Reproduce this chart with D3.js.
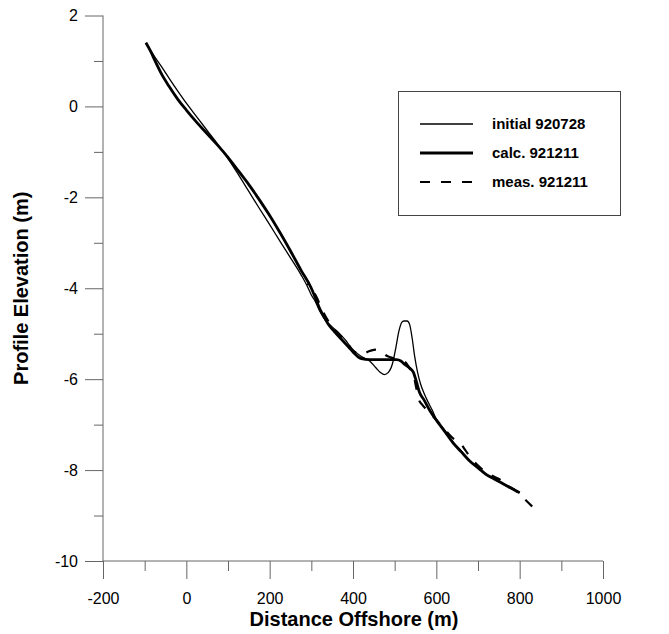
<!DOCTYPE html>
<html>
<head>
<meta charset="utf-8">
<script src="https://cdn.jsdelivr.net/npm/d3@7"></script>
<style>
  html, body { margin: 0; padding: 0; background: #fff; }
  text { font-family: Arial, "Liberation Sans", sans-serif; }
</style>
</head>
<body>
<script>
// profile data, distance offshore (m) vs elevation (m)
const initialX = [-97, -85, -75, -60, -40, -20, 0, 25, 50, 75, 95, 125, 150, 175, 200, 225, 250, 275, 290, 300, 310, 320, 335, 350, 365, 380, 400, 420, 440, 455, 465, 475, 485, 495, 503, 510, 517, 522, 530, 536, 542, 548, 555, 562, 570, 580, 590, 600, 620, 640, 660, 680, 700, 720, 740, 760, 780, 800];
const initialY = [1.4, 1.22, 1.08, 0.88, 0.6, 0.33, 0.07, -0.23, -0.53, -0.83, -1.08, -1.5, -1.87, -2.24, -2.6, -2.97, -3.33, -3.7, -3.95, -4.15, -4.3, -4.5, -4.72, -4.85, -4.97, -5.12, -5.35, -5.5, -5.6, -5.75, -5.85, -5.9, -5.85, -5.65, -5.3, -4.95, -4.75, -4.72, -4.72, -4.8, -5.1, -5.5, -5.85, -6.1, -6.3, -6.5, -6.68, -6.88, -7.12, -7.38, -7.58, -7.8, -7.93, -8.1, -8.18, -8.3, -8.38, -8.5];

const calcX = [-97, -85, -75, -60, -40, -20, 0, 25, 50, 75, 100, 125, 150, 175, 200, 225, 250, 275, 300, 310, 320, 330, 340, 350, 360, 375, 390, 400, 420, 440, 460, 480, 505, 515, 525, 535, 545, 552, 560, 570, 585, 600, 620, 640, 660, 680, 700, 720, 740, 760, 780, 800];
const calcY = [1.4, 1.2, 1.0, 0.72, 0.42, 0.15, -0.08, -0.35, -0.6, -0.85, -1.12, -1.42, -1.72, -2.05, -2.4, -2.78, -3.18, -3.6, -4.0, -4.22, -4.45, -4.62, -4.78, -4.9, -5.0, -5.15, -5.3, -5.4, -5.55, -5.57, -5.57, -5.57, -5.57, -5.6, -5.68, -5.75, -5.85, -6.05, -6.3, -6.45, -6.7, -6.9, -7.15, -7.4, -7.6, -7.8, -7.95, -8.1, -8.2, -8.3, -8.4, -8.5];

const measX = [290, 310, 330, 350, 370, 390, 400, 420, 440, 455, 470, 480, 490, 505, 525, 535, 545, 552, 558, 565, 580, 600, 620, 640, 655, 665, 680, 700, 720, 740, 755, 770, 790, 810, 830];
const measY = [-3.9, -4.15, -4.55, -4.85, -5.05, -5.25, -5.38, -5.45, -5.38, -5.35, -5.4, -5.48, -5.52, -5.56, -5.62, -5.75, -5.9, -6.2, -6.45, -6.55, -6.7, -6.9, -7.1, -7.3, -7.38, -7.5, -7.7, -7.9, -8.05, -8.15, -8.22, -8.35, -8.45, -8.62, -8.8];

const xTicks = [-200, 0, 200, 400, 600, 800, 1000];
const xMinor = [-100, 100, 300, 500, 700, 900];
const yTicks = [-10, -8, -6, -4, -2, 0, 2];
const yMinor = [-9, -7, -5, -3, -1, 1];

const seriesNames = ['initial 920728', 'calc. 921211', 'meas. 921211'];

window.onload = () => {
  const width = 669,
    height = 634;

  const svg = d3
    .select('body')
    .append('svg')
    .attr('width', width)
    .attr('height', height);

  const x = d3.scaleLinear().domain([-200, 1000]).range([103, 603]);
  const y = d3.scaleLinear().domain([-10, 2]).range([561, 15.5]);

  const axisColor = '#666';
  const fmt = d => String(d); // plain hyphen for negatives

  // x axis
  svg.append('g')
    .attr('transform', `translate(0,${y(-10)})`)
    .call(d3.axisBottom(x).tickValues(xTicks).tickSize(18).tickPadding(14).tickFormat(fmt))
    .call(g => g.select('.domain').remove());
  svg.append('g')
    .attr('transform', `translate(0,${y(-10)})`)
    .call(d3.axisBottom(x).tickValues(xMinor).tickSize(10).tickFormat(''))
    .call(g => g.select('.domain').remove());

  // y axis
  svg.append('g')
    .attr('transform', `translate(${x(-200)},0)`)
    .call(d3.axisLeft(y).tickValues(yTicks).tickSize(18).tickPadding(7).tickFormat(fmt))
    .call(g => g.select('.domain').remove());
  svg.append('g')
    .attr('transform', `translate(${x(-200)},0)`)
    .call(d3.axisLeft(y).tickValues(yMinor).tickSize(9).tickFormat(''))
    .call(g => g.select('.domain').remove());

  svg.append('line')
    .attr('x1', x(-200)).attr('x2', x(-200))
    .attr('y1', y(2)).attr('y2', y(-10))
    .attr('stroke', axisColor);
  svg.append('line')
    .attr('x1', x(-200)).attr('x2', x(1000))
    .attr('y1', y(-10)).attr('y2', y(-10))
    .attr('stroke', axisColor);

  svg.selectAll('.tick line').attr('stroke', axisColor);
  svg.selectAll('.tick text')
    .attr('font-size', 16)
    .attr('fill', '#000')
    .style('font-family', 'Arial, "Liberation Sans", sans-serif');

  // axis titles
  svg.append('text')
    .attr('x', 354)
    .attr('y', 626)
    .attr('text-anchor', 'middle')
    .attr('font-size', 20)
    .attr('font-weight', 'bold')
    .text('Distance Offshore (m)');

  svg.append('text')
    .attr('transform', `translate(28,${y(-4)}) rotate(-90)`)
    .attr('text-anchor', 'middle')
    .attr('font-size', 20)
    .attr('font-weight', 'bold')
    .text('Profile Elevation (m)');

  // lines
  const line = d3.line()
    .x(d => x(d[0]))
    .y(d => y(d[1]))
    .curve(d3.curveMonotoneX);

  const series = [
    { pts: d3.zip(initialX, initialY), w: 1.3, dash: null },
    { pts: d3.zip(calcX, calcY), w: 2.8, dash: null },
    { pts: d3.zip(measX, measY), w: 2.2, dash: '10,11' }
  ];

  series.forEach(s => {
    const p = svg.append('path')
      .attr('d', line(s.pts))
      .attr('fill', 'none')
      .attr('stroke', '#000')
      .attr('stroke-width', s.w)
      .attr('stroke-dasharray', s.dash);
    if (s.dash) {
      // make the pattern finish on a full dash
      const len = p.node().getTotalLength();
      p.attr('stroke-dashoffset', (((10 - len) % 21) + 21) % 21);
    }
  });

  // legend
  const lg = svg.append('g');
  lg.append('rect')
    .attr('x', 398.5).attr('y', 91.5)
    .attr('width', 222).attr('height', 124)
    .attr('fill', '#fff')
    .attr('stroke', '#444');

  series.forEach((s, i) => {
    const ly = 124 + i * 29;
    lg.append('line')
      .attr('x1', 420).attr('x2', 473)
      .attr('y1', ly).attr('y2', ly)
      .attr('stroke', '#000')
      .attr('stroke-width', s.w)
      .attr('stroke-dasharray', s.dash);
    lg.append('text')
      .attr('x', 492)
      .attr('y', ly + 5)
      .attr('font-size', 15)
      .attr('font-weight', 'bold')
      .text(seriesNames[i]);
  });
};
</script>
</body>
</html>
